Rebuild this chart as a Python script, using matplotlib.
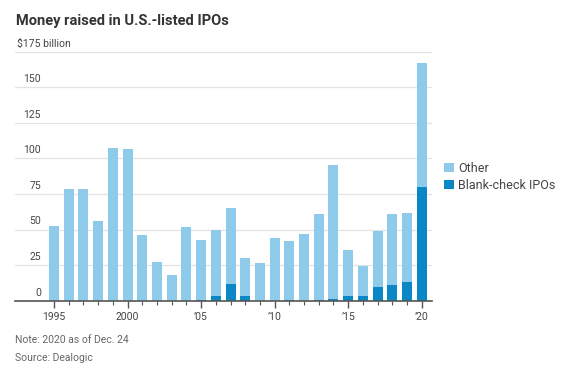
import matplotlib.pyplot as plt
import numpy as np

plt.rcParams['font.family'] = ['Roboto', 'DejaVu Sans']

years = list(range(1995, 2021))
# $ billion
blank_check = [0, 0, 0, 0, 0, 0, 0, 0, 0, 0,
               0.6, 3.4, 12.0, 3.4, 0, 0, 0.4, 0, 0.3, 1.0,
               3.4, 3.5, 9.3, 10.7, 13.4, 80.0]
total = [52.7, 78.2, 78.2, 56.2, 107.4, 106.3, 45.9, 27.0, 17.8, 52.0,
         42.6, 49.6, 65.0, 30.0, 26.5, 44.0, 41.7, 46.6, 61.1, 95.3,
         35.4, 24.1, 49.0, 60.7, 61.8, 167.0]
other = [t - b for t, b in zip(total, blank_check)]

yticks = [0, 25, 50, 75, 100, 125, 150, 175]
xtick_years = [1995, 2000, 2005, 2010, 2015, 2020]
xtick_labels = ['1995', '2000', '\u201905', '\u201910', '\u201915', '\u201920']

c_other = '#8ecae9'
c_blank = '#0b87c6'

fig = plt.figure(figsize=(5.67, 3.80), dpi=100)
ax = fig.add_axes([0.0265, 0.2087, 0.7355, 0.6553])

ax.bar(years, blank_check, width=0.68, color=c_blank, label='Blank-check IPOs', zorder=3)
ax.bar(years, other, width=0.68, bottom=blank_check, color=c_other, label='Other', zorder=3)

ax.set_xlim(1992.35, 2020.7)
ax.set_ylim(0, 175)

for s in ['top', 'right', 'left']:
    ax.spines[s].set_visible(False)
ax.spines['bottom'].set_color('#555555')
ax.spines['bottom'].set_linewidth(1.2)
ax.spines['bottom'].set_zorder(4)

ax.set_yticks(yticks)
ax.set_yticklabels([])
ax.tick_params(axis='y', length=0)
ax.grid(axis='y', color='#e3e3e3', linewidth=0.9, zorder=0)

ytr = ax.get_yaxis_transform()
for v in yticks:
    if v == 175:
        ax.text(0.005, v + 2.2, '$175 billion', transform=ytr, ha='left', va='bottom',
                fontsize=7.5, color='#444444')
    else:
        ax.text(0.062, v + 2.2, str(v), transform=ytr, ha='right', va='bottom',
                fontsize=7.5, color='#444444')

ax.set_xticks(years, minor=True)
ax.set_xticks(xtick_years)
ax.set_xticklabels(xtick_labels, fontsize=7.5, color='#444444')
ax.tick_params(axis='x', which='major', length=5, width=1, color='#555555', pad=3)
ax.tick_params(axis='x', which='minor', length=3, width=0.8, color='#555555')

handles, labels = ax.get_legend_handles_labels()
fig.legend(handles[::-1], labels[::-1], loc='upper left', bbox_to_anchor=(0.772, 0.59),
           frameon=False, fontsize=9, handlelength=0.8, handleheight=0.8,
           handletextpad=0.35, labelspacing=0.3, labelcolor='#444444', borderpad=0)

fig.text(0.028, 0.945, 'Money raised in U.S.-listed IPOs', fontsize=10.5, fontweight='bold',
         color='#333333', va='center')
fig.text(0.027, 0.105, 'Note: 2020 as of Dec. 24', fontsize=7.5, color='#666666', va='center')
fig.text(0.027, 0.058, 'Source: Dealogic', fontsize=7.5, color='#666666', va='center')

fig.savefig('out.png', dpi=100)
